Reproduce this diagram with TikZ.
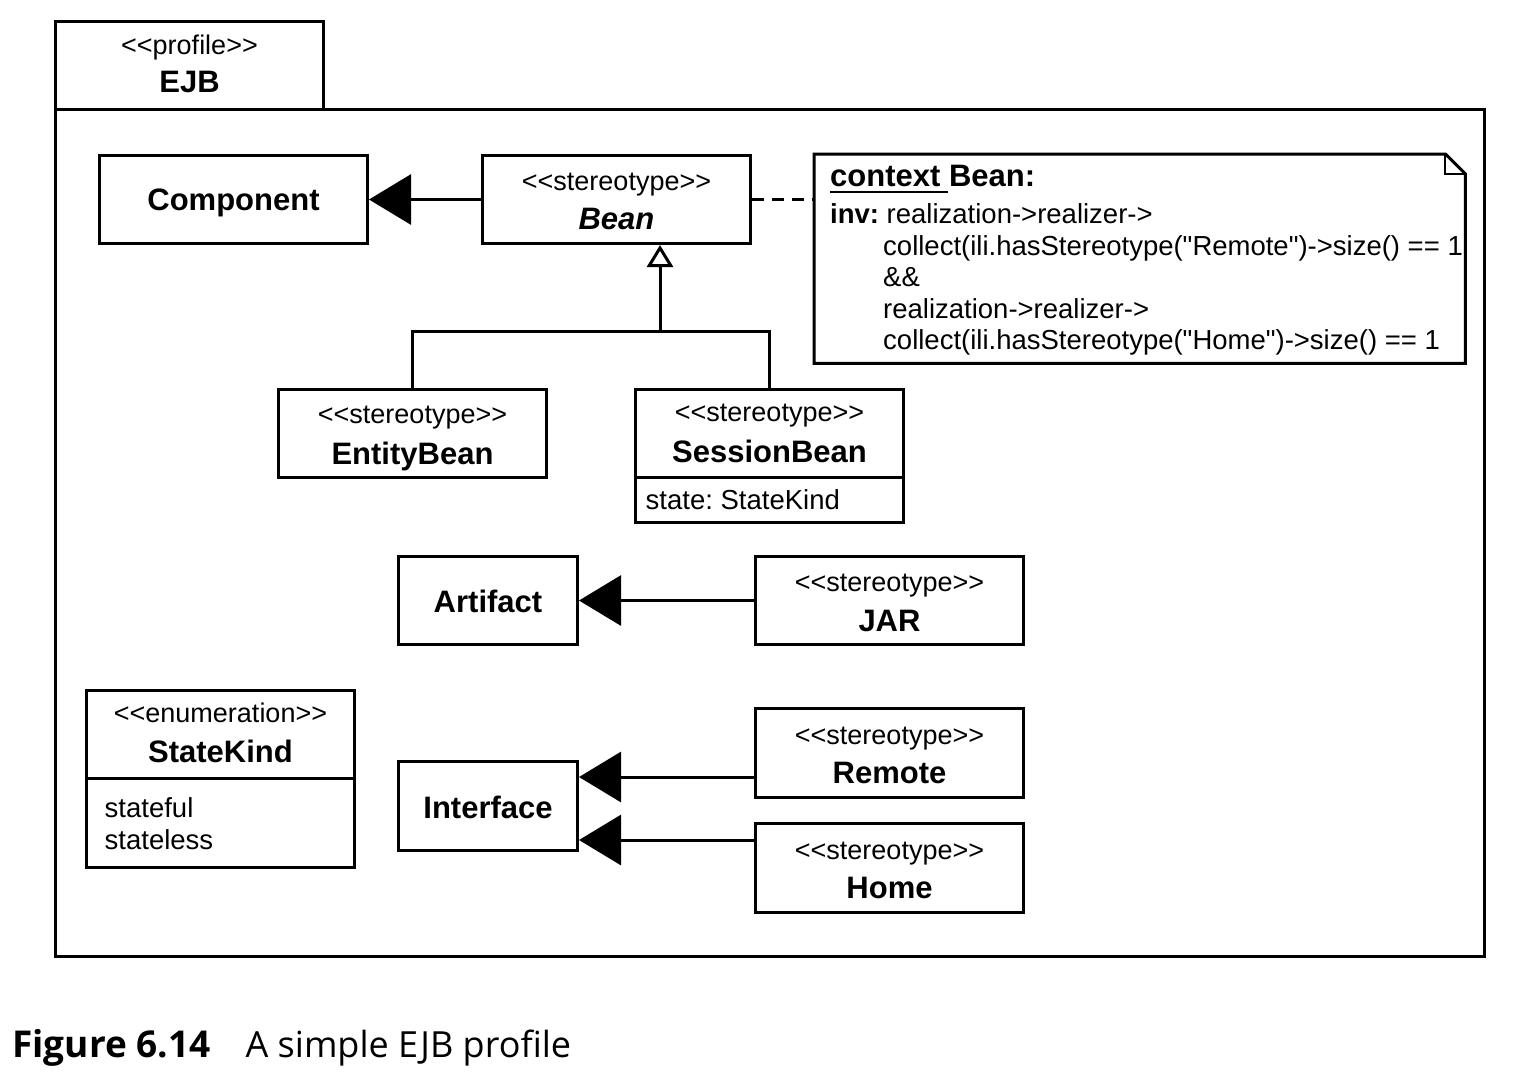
\documentclass[tikz,border=0pt]{standalone}
\usepackage{fontspec}
\newfontfamily\umlfont{Liberation Sans}
\newfontfamily\capfont{Open Sans}
\usetikzlibrary{arrows.meta,calc}
\newcommand\stereo[1]{\textless\textless#1\textgreater\textgreater}
\frenchspacing
\begin{document}
\begin{tikzpicture}[x=1pt,y=-1pt,
  box/.style={draw=black, line width=3pt, fill=white, inner sep=0pt, anchor=north west},
  attrbox/.style={box, outer sep=0pt},
  st/.style={font=\umlfont\fontsize{27}{32}\selectfont, anchor=base, inner sep=0pt},
  nm/.style={font=\umlfont\bfseries\fontsize{31}{36}\selectfont, anchor=base, inner sep=0pt},
  txt/.style={font=\umlfont\fontsize{27.5}{32}\selectfont, anchor=base west, inner sep=0pt},
  inh/.style={line width=3pt, -{Triangle[length=42pt,width=50pt]}},
  gen/.style={line width=3pt, -{Triangle[open,length=22pt,width=26pt,fill=white]}},
  conn/.style={line width=3pt},
  dashconn/.style={line width=3pt, dash pattern=on 12pt off 8pt},
]
\useasboundingbox (0,0) rectangle (1520,1072);
\fill[white] (0,0) rectangle (1520,1072);

% package
\node[box, minimum width=1429pt, minimum height=847pt] (pkg) at (54,108) {};
\node[box, minimum width=268pt, minimum height=88pt] (tab) at (54,20) {};
\node[st] (tabst) at ($(tab.center)+(0,-11)$) {\stereo{profile}};
\node[nm] (tabnm) at ($(tab.center)+(0,27)$) {EJB};

% Component
\node[box, minimum width=268pt, minimum height=88pt] (comp) at (98,154) {};
\node[nm] (compnm) at ($(comp.center)+(0,11)$) {Component};

% Bean
\node[box, minimum width=268pt, minimum height=88pt] (bean) at (481,154) {};
\node[st] (beanst) at ($(bean.center)+(0,-9)$) {\stereo{stereotype}};
\node[nm] (beannm) at ($(bean.center)+(0,30)$) {\itshape Bean};

% EntityBean
\node[box, minimum width=268pt, minimum height=88pt] (eb) at (277,388) {};
\node[st] (ebst) at ($(eb.center)+(0,-10)$) {\stereo{stereotype}};
\node[nm] (ebnm) at ($(eb.center)+(0,31)$) {EntityBean};

% SessionBean
\node[box, minimum width=268pt, minimum height=88pt] (sb) at (634,388) {};
\node[st] (sbst) at ($(sb.center)+(0,-12)$) {\stereo{stereotype}};
\node[nm] (sbnm) at ($(sb.center)+(0,29)$) {SessionBean};
\node[attrbox, minimum width=268pt, minimum height=45pt] (sbattr) at ($(sb.south west)+(1.5,-1.5)$) {};
\node[txt] (sbattrt) at ($(sbattr.west)+(10,9)$) {state: StateKind};

% Artifact / JAR
\node[box, minimum width=179pt, minimum height=88pt] (art) at (397,555) {};
\node[nm] (artnm) at ($(art.center)+(0,12)$) {Artifact};
\node[box, minimum width=268pt, minimum height=88pt] (jar) at (754,555) {};
\node[st] (jarst) at ($(jar.center)+(0,-9)$) {\stereo{stereotype}};
\node[nm] (jarnm) at ($(jar.center)+(0,31)$) {JAR};

% StateKind
\node[box, minimum width=268pt, minimum height=88pt] (sk) at (85,689) {};
\node[st] (skst) at ($(sk.center)+(0,-12)$) {\stereo{enumeration}};
\node[nm] (sknm) at ($(sk.center)+(0,28)$) {StateKind};
\node[attrbox, minimum width=268pt, minimum height=89pt] (skattr) at ($(sk.south west)+(1.5,-1.5)$) {};
\node[txt] (sk1) at ($(skattr.north west)+(18,39)$) {stateful};
\node[txt] (sk2) at ($(skattr.north west)+(18,71)$) {stateless};

% Interface / Remote / Home
\node[box, minimum width=179pt, minimum height=89pt] (intf) at (397,760) {};
\node[nm] (intfnm) at ($(intf.center)+(0,12)$) {Interface};
\node[box, minimum width=268pt, minimum height=89pt] (rem) at (754,707) {};
\node[st] (remst) at ($(rem.center)+(0,-9)$) {\stereo{stereotype}};
\node[nm] (remnm) at ($(rem.center)+(0,30)$) {Remote};
\node[box, minimum width=268pt, minimum height=89pt] (home) at (754,822) {};
\node[st] (homest) at ($(home.center)+(0,-9)$) {\stereo{stereotype}};
\node[nm] (homenm) at ($(home.center)+(0,30)$) {Home};

% Note
\node[inner sep=0pt, minimum width=651pt, minimum height=209pt, anchor=north west] (note) at (814,154) {};
\draw[conn] (note.north west) -- ([xshift=-20pt]note.north east) -- ([yshift=-20pt]note.north east)
  -- (note.south east) -- (note.south west) -- cycle;
\draw[conn, line width=2pt] ([xshift=-20pt]note.north east) -- ++(0,20) -- ++(20,0);
\node[nm, anchor=base west] (ctx) at (830,186) {context Bean:};
\draw[line width=2.5pt] (830,192) -- (948,192);
\node[txt] (l1) at (830,223) {\bfseries inv:\mdseries\ realization->realizer->};
\node[txt] (l2) at (883,255) {collect(ili.hasStereotype("Remote")->size() == 1};
\node[txt] (l3) at (883,286) {\&\&};
\node[txt] (l4) at (883,318) {realization->realizer->};
\node[txt] (l5) at (883,349) {collect(ili.hasStereotype("Home")->size() == 1};

% connectors
\draw[inh] (bean.west) -- (comp.east);
\draw[dashconn] (bean.east) -- (bean.east -| note.west);
\coordinate (gj) at (660,331);
\draw[conn] (eb.north) |- (gj) -| (sb.north);
\draw[gen] (gj) -- (gj |- bean.south);
\draw[inh] (jar.west) -- (art.east);
\draw[inh] (rem.west |- 0,777) -- (intf.east |- 0,777);
\draw[inh] (home.west |- 0,840) -- (intf.east |- 0,840);

% caption
\node[anchor=base west, inner sep=0pt, font=\capfont\fontsize{37}{40}\selectfont] (cap) at (12,1057)
  {\textbf{Figure 6.14}\hspace{0.95em}{\fontsize{36}{40}\selectfont A simple EJB profile}};
\end{tikzpicture}
\end{document}
